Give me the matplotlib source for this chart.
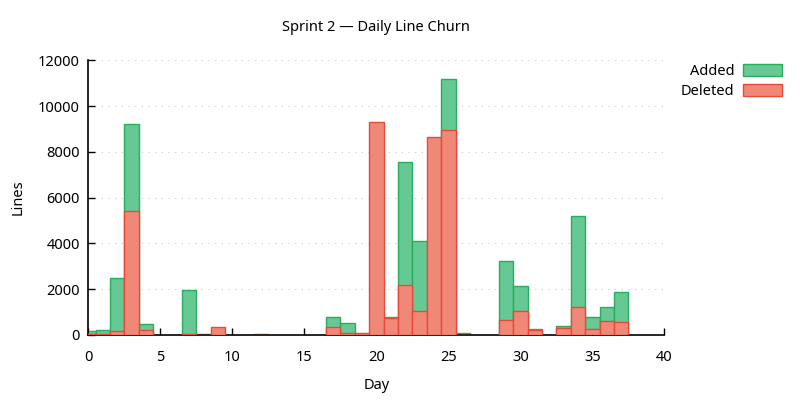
import matplotlib
matplotlib.use("Agg")
import matplotlib.pyplot as plt

plt.rcParams['font.family'] = ['Noto Sans', 'DejaVu Sans']

# data -------------------------------------------------------------------
days    = [0, 1, 2, 3, 4, 7, 8, 9, 12, 17, 18, 19, 20, 21, 22, 23, 24, 25, 26,
           29, 30, 31, 33, 34, 35, 36, 37]
added   = [175, 220, 2490, 9220, 480, 1970, 40, 0, 40, 775, 510, 0, 0, 775,
           7545, 4090, 0, 11170, 75, 3220, 2125, 250, 395, 5185, 775, 1210, 1865]
deleted = [60, 40, 160, 5420, 220, 60, 0, 350, 0, 335, 75, 75, 9290, 730,
           2170, 1035, 8635, 8940, 0, 640, 1035, 205, 305, 1210, 250, 600, 555]

green_fill, green_edge = "#66c892", "#28ad5e"
red_fill,   red_edge   = "#f08878", "#e8483a"

# chart ------------------------------------------------------------------
fig = plt.figure(figsize=(8, 4), dpi=100)
ax = fig.add_axes([0.1104, 0.1625, 0.72, 0.687])

ax.bar(days, added, width=1.0, color=green_fill, edgecolor=green_edge,
       linewidth=1.0, label="Added", zorder=2)
ax.bar(days, deleted, width=1.0, color=red_fill, edgecolor=red_edge,
       linewidth=1.0, label="Deleted", zorder=3)

ax.set_xlim(0, 40)
ax.set_ylim(0, 12000)
ax.set_xticks(range(0, 41, 5))
ax.set_yticks(range(0, 12001, 2000))
ax.tick_params(direction="in", length=5, width=1, labelsize=10.5)
ax.tick_params(axis="x", top=False, pad=11)
ax.tick_params(axis="y", right=False, pad=6)

for s in ("top", "right"):
    ax.spines[s].set_visible(False)
for s in ("left", "bottom"):
    ax.spines[s].set_linewidth(1.2)

ax.yaxis.grid(True, linestyle=(0, (1, 5)), color="#c8c8c8", linewidth=0.8, zorder=0)
ax.set_axisbelow(True)

ax.set_title("Sprint 2 \u2014 Daily Line Churn", fontsize=10.5, pad=21)
ax.set_xlabel("Day", fontsize=10.5, labelpad=9)
ax.set_ylabel("Lines", fontsize=10.5)
ax.yaxis.set_label_coords(-0.108, 0.5)

leg = ax.legend(loc="upper left", bbox_to_anchor=(1.011, 1.022), frameon=False,
                markerfirst=False, fontsize=10.5, handlelength=2.7,
                handleheight=0.85, handletextpad=0.55, labelspacing=0.32,
                borderaxespad=0.3)
for t in leg.get_texts():
    t.set_ha("right")

fig.savefig("out.png", dpi=100)
